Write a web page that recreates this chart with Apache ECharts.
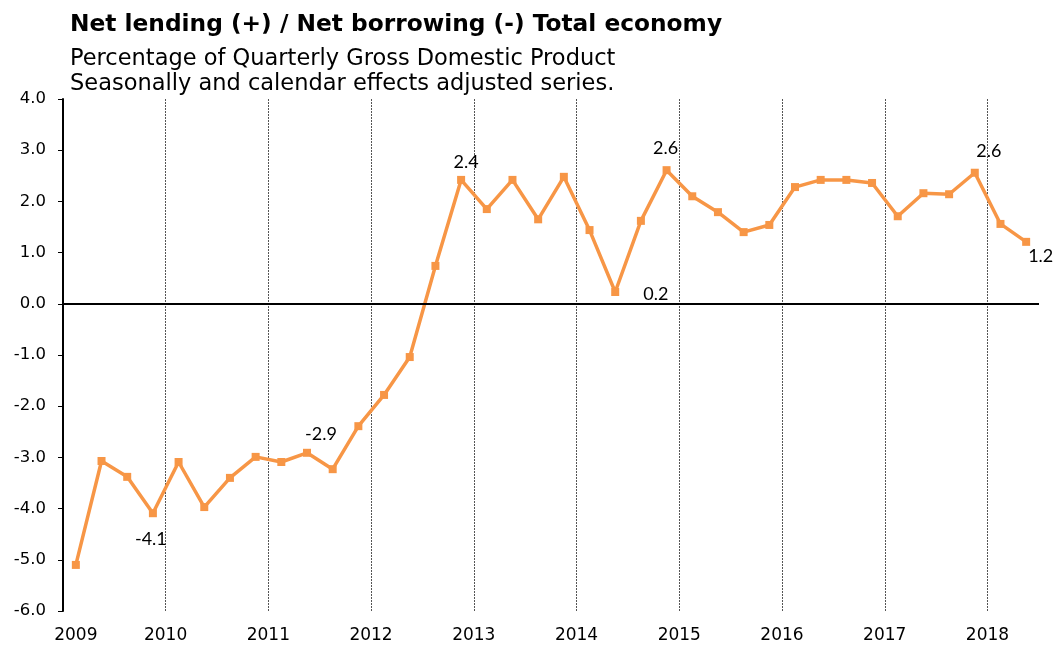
<!DOCTYPE html>
<html><head><meta charset="utf-8">
<script src="https://cdn.jsdelivr.net/npm/echarts@6/dist/echarts.min.js"></script>
<style>html,body{margin:0;padding:0;background:#fff}#c{width:1058px;height:647px}</style>
</head><body><div id="c"></div>
<script>
const titleText = 'Net lending (+) / Net borrowing (-) Total economy';
const subText = 'Percentage of Quarterly Gross Domestic Product\nSeasonally and calendar effects adjusted series.';
const years = [2009,2010,2011,2012,2013,2014,2015,2016,2017,2018];
const quarters = [];
years.forEach(y => { for (let q = 1; q <= 4; q++) quarters.push(y + 'Q' + q); });
const categories = quarters.slice(0, 38);
const values = [-5.10,-3.07,-3.38,-4.09,-3.09,-3.97,-3.40,-2.99,-3.09,-2.91,-3.23,-2.39,
  -1.78,-1.04,0.74,2.42,1.85,2.42,1.65,2.48,1.44,0.23,1.62,2.61,
  2.10,1.79,1.40,1.54,2.28,2.42,2.42,2.36,1.71,2.16,2.14,2.56,1.56,1.21];
const yTicks = {min:-6, max:4, interval:1};
// labelled points: index -> position / offset
const labelled = {
  3:{position:'bottom', offset:[-2,8]},
  9:{position:'top', offset:[14,-1]},
  15:{position:'top', offset:[5,0]},
  21:{position:'right', offset:[19,2]},
  23:{position:'top', offset:[-1,-4]},
  35:{position:'top', offset:[14,-4]},
  37:{position:'right', offset:[-7,14]}
};
const orange = '#F79646';
const seriesData = values.map((v, i) => {
  const l = labelled[i];
  if (!l) return v;
  return {value: v, label: {show: true, position: l.position, offset: l.offset,
    formatter: p => p.value.toFixed(1), fontFamily: 'Lato', fontSize: 18, color: '#000'}};
});
const isYearStart = i => i % 4 === 0;
const chart = echarts.init(document.getElementById('c'), null, {renderer:'canvas'});
chart.setOption({
  animation: false,
  backgroundColor: '#fff',
  title: {
    text: titleText, subtext: subText, left: 65, top: 5, itemGap: 7,
    textStyle: {fontFamily: 'DejaVu Sans', fontWeight: 'bold', fontSize: 23.3, color: '#000', lineHeight: 30},
    subtextStyle: {fontFamily: 'DejaVu Sans', fontSize: 22.5, color: '#000', lineHeight: 25}
  },
  grid: {left: 63, right: 19, top: 99, bottom: 36, containLabel: false},
  xAxis: {
    type: 'category', data: categories, boundaryGap: true,
    axisLine: {show: false, onZero: false}, axisTick: {show: false},
    axisLabel: {
      interval: (i) => isYearStart(i), margin: 16,
      formatter: (v, i) => i === 0 ? '{a|' + v.slice(0,4) + '}' : '{b|' + v.slice(0,4) + '}',
      rich: {
        a: {fontFamily: 'DejaVu Sans', fontSize: 17, color: '#000'},
        b: {fontFamily: 'DejaVu Sans', fontSize: 17, color: '#000', padding: [0, 26, 0, 0]}
      }
    },
    splitLine: {show: true, interval: (i) => isYearStart(i), showMinLine: true, showMaxLine: false,
      lineStyle: {color: '#555', type: [2, 1], width: 1}}
  },
  yAxis: {
    type: 'value', min: yTicks.min, max: yTicks.max, interval: yTicks.interval,
    axisLine: {show: true, onZero: false, lineStyle: {color: '#000', width: 2}},
    axisTick: {show: true, length: 5, lineStyle: {color: '#000', width: 1}},
    axisLabel: {formatter: v => v.toFixed(1), fontFamily: 'DejaVu Sans', fontSize: 16.5, color: '#000', margin: 17},
    splitLine: {show: false}
  },
  series: [{
    type: 'line', data: seriesData,
    symbol: 'rect', symbolSize: 8, showAllSymbol: true,
    lineStyle: {color: orange, width: 3.5},
    itemStyle: {color: orange},
    label: {show: false},
    markLine: {
      silent: true, symbol: ['none', 'none'], label: {show: false},
      lineStyle: {color: '#000', type: 'solid', width: 2},
      data: [{yAxis: 0}]
    },
    z: 3
  }]
});
</script></body></html>
